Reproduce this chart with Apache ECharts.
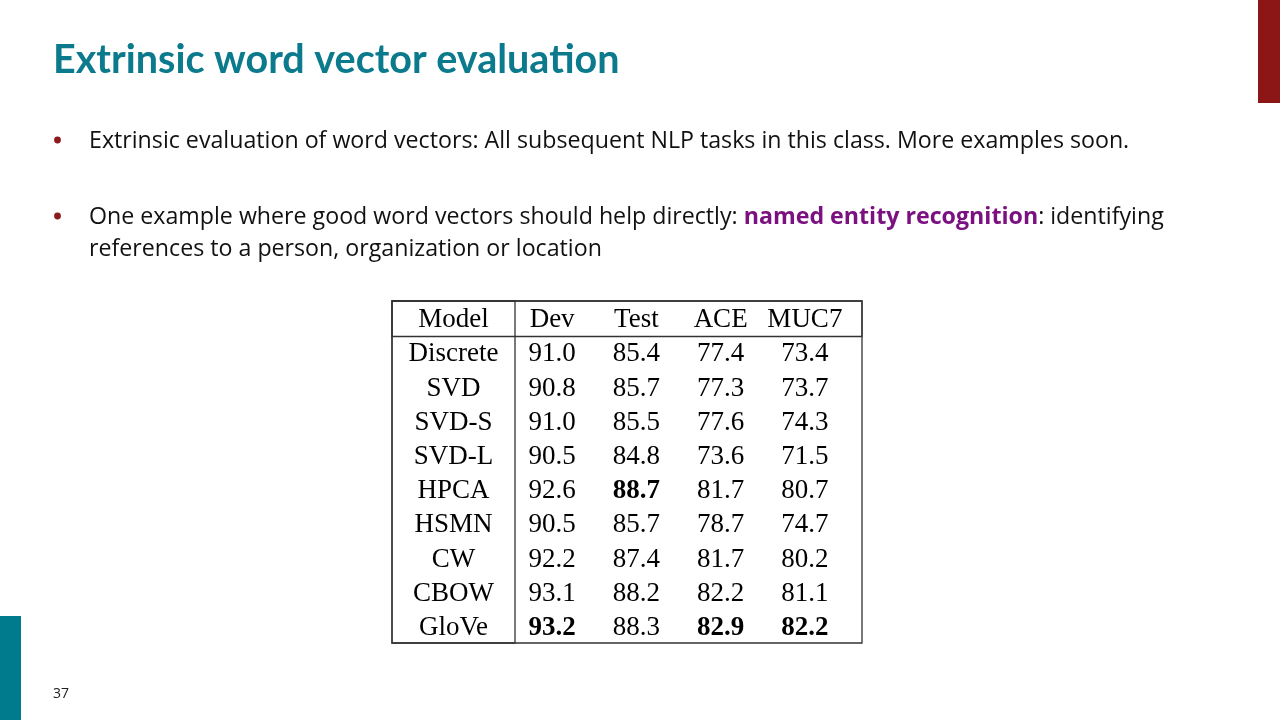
<!DOCTYPE html>
<html>
<head>
<meta charset="utf-8">
<script src="https://cdn.jsdelivr.net/npm/echarts@6/dist/echarts.min.js"></script>
<style>
  html, body { margin: 0; padding: 0; background: #fff; }
  #main { width: 1280px; height: 720px; }
</style>
</head>
<body>
<div id="main"></div>
<script>
// table data
const headerLabel = 'Model';
const models = ['Discrete', 'SVD', 'SVD-S', 'SVD-L', 'HPCA', 'HSMN', 'CW', 'CBOW', 'GloVe'];
const columns = ['Dev', 'Test', 'ACE', 'MUC7'];
const dev = [91.0, 90.8, 91.0, 90.5, 92.6, 90.5, 92.2, 93.1, 93.2];
const test = [85.4, 85.7, 85.5, 84.8, 88.7, 85.7, 87.4, 88.2, 88.3];
const ace = [77.4, 77.3, 77.6, 73.6, 81.7, 78.7, 81.7, 82.2, 82.9];
const muc7 = [73.4, 73.7, 74.3, 71.5, 80.7, 74.7, 80.2, 81.1, 82.2];

// slide text
const slideTitle = 'Extrinsic word vector evaluation';
const bullet1 = 'Extrinsic evaluation of word vectors: All subsequent NLP tasks in this class. More examples soon.';
const bullet2a = 'One example where good word vectors should help directly: ';
const bullet2b = 'named entity recognition';
const bullet2c = ': identifying';
const bullet2d = 'references to a person, organization or location';
const pageNo = '37';

const values = [dev, test, ace, muc7];
const rows = [headerLabel].concat(models);

const serif = 'Liberation Serif';
const titleFont = 'Lato';
const bodyFont = 'Open Sans';
const tableFont = 27;
const bodySize = 23.2;

const chart = echarts.init(document.getElementById('main'));

// hidden axis helper
function hiddenAxis(type, gridIndex, extra) {
    return Object.assign({
        type: type,
        gridIndex: gridIndex,
        axisLine: { show: false },
        axisTick: { show: false },
        axisLabel: { show: false },
        splitLine: { show: false }
    }, extra || {});
}

// model names column
const modelData = rows.map(function (name, j) {
    return {
        value: [0, j],
        label: { formatter: name }
    };
});

// number cells (bold = best in column)
const cellData = [];
columns.forEach(function (col, i) {
    cellData.push({ value: [i, 0], label: { formatter: col } });
    const best = Math.max.apply(null, values[i]);
    values[i].forEach(function (v, k) {
        cellData.push({
            value: [i, k + 1],
            label: {
                formatter: v.toFixed(1),
                fontWeight: v === best ? 'bold' : 'normal'
            }
        });
    });
});

const cellLabel = {
    show: true,
    position: 'inside',
    offset: [0, 2],
    fontFamily: serif,
    fontSize: tableFont,
    color: '#000'
};

const border = { show: true, borderColor: '#333', borderWidth: 1.3, backgroundColor: 'transparent' };

const option = {
    animation: false,
    backgroundColor: '#fff',
    grid: [
        Object.assign({ left: 392, top: 301, width: 470, height: 342 }, border),   // frame
        Object.assign({ left: 392, top: 301, width: 123, height: 342 }, border),   // model column
        Object.assign({ left: 392, top: 301, width: 470, height: 35.5 }, border),  // header row
        { left: 510, top: 301, width: 337, height: 342, show: false }              // numbers
    ],
    xAxis: [
        hiddenAxis('value', 0),
        hiddenAxis('category', 1, { data: [headerLabel] }),
        hiddenAxis('value', 2),
        hiddenAxis('category', 3, { data: columns })
    ],
    yAxis: [
        hiddenAxis('value', 0),
        hiddenAxis('category', 1, { data: rows, inverse: true }),
        hiddenAxis('value', 2),
        hiddenAxis('category', 3, { data: rows, inverse: true })
    ],
    series: [
        {
            type: 'scatter',
            xAxisIndex: 1,
            yAxisIndex: 1,
            symbolSize: 0,
            itemStyle: { opacity: 1 },
            label: cellLabel,
            data: modelData
        },
        {
            type: 'scatter',
            xAxisIndex: 3,
            yAxisIndex: 3,
            symbolSize: 0,
            itemStyle: { opacity: 1 },
            label: cellLabel,
            data: cellData
        }
    ],
    graphic: [
        // corner bars
        { type: 'rect', shape: { x: 1258, y: 0, width: 22, height: 103 }, style: { fill: '#8c1516' } },
        { type: 'rect', shape: { x: 0, y: 616, width: 21, height: 104 }, style: { fill: '#007b8e' } },
        // title
        {
            type: 'text', left: 53, top: 40,
            style: { text: slideTitle, fontFamily: titleFont, fontWeight: 'bold', fontSize: 39.5, fill: '#0a7a8c' }
        },
        // bullets
        { type: 'circle', shape: { cx: 57.5, cy: 140, r: 3.4 }, style: { fill: '#8c1a1a' } },
        { type: 'circle', shape: { cx: 57.5, cy: 216, r: 3.4 }, style: { fill: '#8c1a1a' } },
        {
            type: 'text', left: 89, top: 130,
            style: { text: bullet1, fontFamily: bodyFont, fontSize: bodySize, fill: '#111' }
        },
        {
            type: 'text', left: 89, top: 206,
            style: {
                text: bullet2a + '{p|' + bullet2b + '}' + bullet2c,
                fontFamily: bodyFont, fontSize: bodySize, fill: '#111',
                rich: { p: { fontFamily: bodyFont, fontSize: bodySize, fontWeight: 'bold', fill: '#7b1180' } }
            }
        },
        {
            type: 'text', left: 89, top: 238,
            style: { text: bullet2d, fontFamily: bodyFont, fontSize: bodySize, fill: '#111' }
        },
        // page number
        {
            type: 'text', left: 53, top: 687,
            style: { text: pageNo, fontFamily: bodyFont, fontSize: 14, fill: '#222' }
        }
    ]
};

chart.setOption(option);
</script>
</body>
</html>
